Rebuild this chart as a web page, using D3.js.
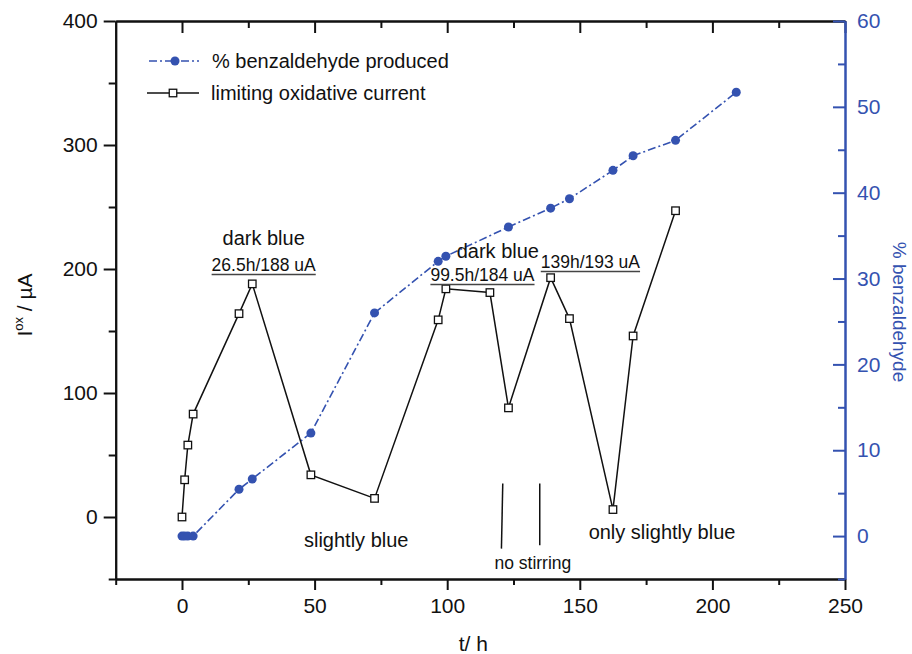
<!DOCTYPE html>
<html>
<head>
<meta charset="utf-8">
<script src="https://cdn.jsdelivr.net/npm/d3@7"></script>
<style>
  body { margin: 0; background: #fff; }
  svg { display: block; font-family: Arial, "Liberation Sans", sans-serif; }
</style>
</head>
<body>
<div id="chart"></div>
<script>
// limiting oxidative current (left axis, uA)
const currentT = [0, 1, 2.2, 4.2, 21.5, 26.5, 48.6, 72.6, 96.6, 99.5, 116.1, 123.1, 139, 146.1, 162.5, 170.1, 186.1];
const currentI = [0, 30, 58, 83, 164, 188, 34, 15, 159, 184, 181, 88, 193, 160, 6, 146, 247];

// % benzaldehyde produced (right axis)
const benzT = [0, 1, 2.2, 4.2, 21.5, 26.5, 48.6, 72.6, 96.6, 99.5, 123.1, 139, 146.1, 162.5, 170.1, 186.1, 209];
const benzPct = [0, 0, 0, 0, 5.45, 6.65, 12.0, 26.0, 32.0, 32.6, 36.0, 38.2, 39.3, 42.6, 44.3, 46.1, 51.7];

const xTicks = [0, 50, 100, 150, 200, 250];
const xMinor = [-25, 25, 75, 125, 175, 225];
const yLTicks = [0, 100, 200, 300, 400];
const yLMinor = [-50, 50, 150, 250, 350];
const yRTicks = [0, 10, 20, 30, 40, 50, 60];
const yRMinor = [-5, 5, 15, 25, 35, 45, 55];

// annotations in data units (t, I)
const notes = [
  { text: "dark blue", t: 30.8, I: 219, size: 20, under: false },
  { text: "26.5h/188 uA", t: 30.8, I: 198.4, size: 17.5, under: true },
  { text: "dark blue", t: 119.1, I: 208.6, size: 20, under: false },
  { text: "99.5h/184 uA", t: 113.3, I: 190.3, size: 17.5, under: true },
  { text: "139h/193 uA", t: 154, I: 200.8, size: 17.5, under: true },
  { text: "slightly blue", t: 65.7, I: -24.2, size: 20, under: false },
  { text: "no stirring", t: 132.3, I: -41.6, size: 17.5, under: false },
  { text: "only slightly blue", t: 181, I: -17.4, size: 20, under: false }
];
// "no stirring" markers
const stirLines = [
  { t0: 120.95, I0: 27, t1: 120.45, I1: -25.5 },
  { t0: 134.9, I0: 27, t1: 134.9, I1: -22.8 }
];

const BLUE = "#3452b0";
const width = 912, height = 654;
const mLeft = 115.7, mRight = 845, mTop = 21, mBottom = 579;

const svg = d3.select("#chart").append("svg")
  .attr("width", width).attr("height", height);

const x = d3.scaleLinear().domain([-25, 250]).range([mLeft, mRight]);
const yL = d3.scaleLinear().domain([-50, 400]).range([mBottom, mTop]);
const yR = d3.scaleLinear().domain([-5, 60]).range([mBottom, mTop]);

function styleAxis(g, color, fs) {
  g.select(".domain").attr("stroke", color).attr("stroke-width", 2);
  g.selectAll(".tick line").attr("stroke", color).attr("stroke-width", 2);
  g.selectAll(".tick text").attr("fill", color).style("font-size", fs + "px")
    .style("font-family", "Arial, 'Liberation Sans', sans-serif");
}

// bottom axis
svg.append("g").attr("transform", `translate(0,${mBottom})`)
  .call(d3.axisBottom(x).tickValues(xMinor).tickSize(6).tickSizeOuter(0).tickFormat(""))
  .call(g => styleAxis(g, "#111", 21));
svg.append("g").attr("transform", `translate(0,${mBottom})`)
  .call(d3.axisBottom(x).tickValues(xTicks).tickSize(11).tickSizeOuter(0).tickPadding(8).tickFormat(d3.format("d")))
  .call(g => styleAxis(g, "#111", 21));

// top axis (inward ticks, no labels)
svg.append("g").attr("transform", `translate(0,${mTop})`)
  .call(d3.axisTop(x).tickValues(xMinor.filter(d => d > -25)).tickSize(-7).tickSizeOuter(0).tickFormat(""))
  .call(g => styleAxis(g, "#111", 21));
svg.append("g").attr("transform", `translate(0,${mTop})`)
  .call(d3.axisTop(x).tickValues(xTicks).tickSize(-12).tickSizeOuter(0).tickFormat(""))
  .call(g => styleAxis(g, "#111", 21));

// left axis
svg.append("g").attr("transform", `translate(${mLeft},0)`)
  .call(d3.axisLeft(yL).tickValues(yLMinor).tickSize(7).tickSizeOuter(0).tickFormat(""))
  .call(g => styleAxis(g, "#111", 21));
svg.append("g").attr("transform", `translate(${mLeft},0)`)
  .call(d3.axisLeft(yL).tickValues(yLTicks).tickSize(12).tickSizeOuter(0).tickPadding(6).tickFormat(d3.format("d")))
  .call(g => styleAxis(g, "#111", 21));

// right axis (blue, inward ticks)
svg.append("g").attr("transform", `translate(${mRight},0)`)
  .call(d3.axisRight(yR).tickValues(yRMinor).tickSize(-7).tickSizeOuter(0).tickFormat(""))
  .call(g => styleAxis(g, BLUE, 21));
svg.append("g").attr("transform", `translate(${mRight},0)`)
  .call(d3.axisRight(yR).tickValues(yRTicks).tickSize(-12).tickSizeOuter(0).tickPadding(12).tickFormat(d3.format("d")))
  .call(g => styleAxis(g, BLUE, 21));

// axis titles
svg.append("text")
  .attr("transform", `translate(${(mLeft + mRight) / 2 - 7},651)`)
  .attr("text-anchor", "middle").style("font-size", "21px").attr("fill", "#111")
  .text("t/ h");

const lt = svg.append("text")
  .attr("transform", "translate(32,305) rotate(-90)")
  .attr("text-anchor", "middle").style("font-size", "21px").attr("fill", "#111");
lt.append("tspan").text("I");
lt.append("tspan").attr("dy", -9).style("font-size", "13px").text("ox");
lt.append("tspan").attr("dy", 9).text(" / µA");

svg.append("text")
  .attr("transform", "translate(893,312) rotate(90)")
  .attr("text-anchor", "middle").style("font-size", "19px").attr("fill", BLUE)
  .text("% benzaldehyde");

// benzaldehyde series
const benz = benzT.map((t, i) => ({ t: t, v: benzPct[i] }));
svg.append("path").datum(benz)
  .attr("fill", "none").attr("stroke", BLUE).attr("stroke-width", 1.6)
  .attr("stroke-dasharray", "8,3,2,3")
  .attr("d", d3.line().x(d => x(d.t)).y(d => yR(d.v)));
svg.append("g").selectAll("circle").data(benz).join("circle")
  .attr("cx", d => x(d.t)).attr("cy", d => yR(d.v)).attr("r", 4.5)
  .attr("fill", BLUE);

// current series
const cur = currentT.map((t, i) => ({ t: t, v: currentI[i] }));
svg.append("path").datum(cur)
  .attr("fill", "none").attr("stroke", "#111").attr("stroke-width", 1.5)
  .attr("d", d3.line().x(d => x(d.t)).y(d => yL(d.v)));
svg.append("g").selectAll("rect").data(cur).join("rect")
  .attr("x", d => x(d.t) - 3.75).attr("y", d => yL(d.v) - 3.75)
  .attr("width", 7.5).attr("height", 7.5)
  .attr("fill", "#fff").attr("stroke", "#111").attr("stroke-width", 1.3);

// no stirring lines
svg.append("g").selectAll("line").data(stirLines).join("line")
  .attr("x1", d => x(d.t0)).attr("y1", d => yL(d.I0))
  .attr("x2", d => x(d.t1)).attr("y2", d => yL(d.I1))
  .attr("stroke", "#111").attr("stroke-width", 1.5);

// annotations
const ann = svg.append("g");
notes.forEach(n => {
  const t = ann.append("text")
    .attr("x", x(n.t)).attr("y", yL(n.I))
    .attr("text-anchor", "middle").style("font-size", n.size + "px").attr("fill", "#111")
    .text(n.text);
  if (n.under) {
    const w = t.node().getComputedTextLength();
    ann.append("line")
      .attr("x1", x(n.t) - w / 2).attr("x2", x(n.t) + w / 2)
      .attr("y1", yL(n.I) + 3.5).attr("y2", yL(n.I) + 3.5)
      .attr("stroke", "#444").attr("stroke-width", 1.5);
  }
});

// legend
const leg = svg.append("g");
leg.append("line").attr("x1", 149).attr("x2", 199).attr("y1", 61).attr("y2", 61)
  .attr("stroke", BLUE).attr("stroke-width", 1.6).attr("stroke-dasharray", "8,3,2,3");
leg.append("circle").attr("cx", 175).attr("cy", 61).attr("r", 4.5).attr("fill", BLUE);
leg.append("text").attr("x", 212).attr("y", 68).style("font-size", "20px").attr("fill", "#111")
  .text("% benzaldehyde produced");
leg.append("line").attr("x1", 147).attr("x2", 199).attr("y1", 93).attr("y2", 93)
  .attr("stroke", "#111").attr("stroke-width", 1.5);
leg.append("rect").attr("x", 169.25).attr("y", 89.25).attr("width", 7.5).attr("height", 7.5)
  .attr("fill", "#fff").attr("stroke", "#111").attr("stroke-width", 1.3);
leg.append("text").attr("x", 211).attr("y", 100).style("font-size", "20px").attr("fill", "#111")
  .text("limiting oxidative current");
</script>
</body>
</html>
